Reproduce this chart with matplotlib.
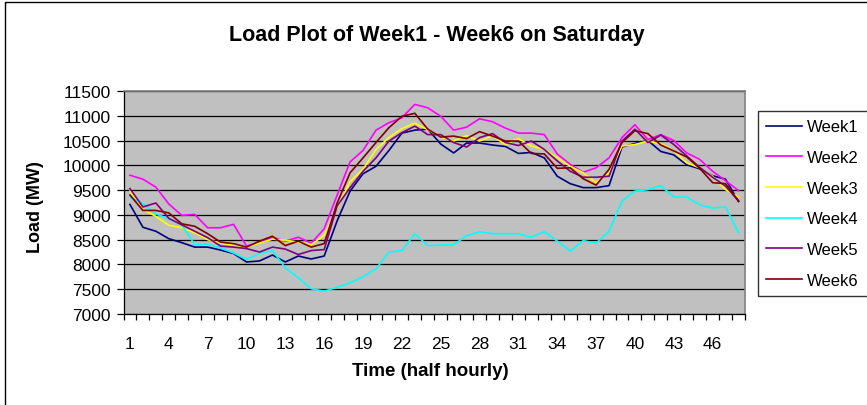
import numpy as np
import matplotlib
matplotlib.use("Agg")
import matplotlib.pyplot as plt
from matplotlib.patches import Rectangle

plt.rcParams["font.family"] = ["Liberation Sans", "DejaVu Sans"]

# half-hourly periods 1..48
periods = list(range(1, 49))

week1 = [9210, 8750, 8670, 8520, 8440, 8350, 8350, 8290, 8220, 8050, 8070, 8190,
         8050, 8170, 8110, 8170, 8880, 9480, 9830, 9980, 10300, 10650, 10710, 10730,
         10430, 10250, 10450, 10450, 10410, 10380, 10240, 10260, 10150, 9780, 9630, 9550,
         9550, 9590, 10370, 10440, 10500, 10280, 10210, 10010, 9930, 9790, 9720, 9270]
week2 = [9800, 9720, 9560, 9220, 8990, 9010, 8740, 8740, 8810, 8370, 8450, 8550,
         8470, 8550, 8430, 8720, 9400, 10070, 10300, 10710, 10860, 10960, 11230, 11160,
         10990, 10710, 10770, 10940, 10880, 10750, 10650, 10650, 10620, 10230, 10020, 9860,
         9950, 10150, 10560, 10820, 10520, 10620, 10500, 10250, 10120, 9880, 9690, 9490]
week3 = [9480, 9110, 8970, 8790, 8740, 8640, 8500, 8430, 8390, 8350, 8430, 8510,
         8490, 8450, 8400, 8590, 9140, 9670, 9920, 10320, 10560, 10740, 10850, 10720,
         10570, 10490, 10600, 10490, 10590, 10420, 10540, 10390, 10320, 10150, 9980, 9850,
         9650, 9850, 10390, 10420, 10490, 10440, 10290, 10050, 9950, 9780, 9510, 9360]
week4 = [9360, 9230, 9020, 8920, 8800, 8400, 8410, 8330, 8230, 8100, 8220, 8280,
         7930, 7730, 7510, 7460, 7540, 7630, 7750, 7910, 8250, 8280, 8620, 8380,
         8390, 8400, 8580, 8660, 8620, 8620, 8620, 8550, 8660, 8470, 8270, 8480,
         8430, 8670, 9280, 9480, 9510, 9590, 9360, 9360, 9200, 9140, 9160, 8640]
week5 = [9530, 9160, 9240, 8930, 8800, 8670, 8540, 8370, 8350, 8320, 8250, 8350,
         8310, 8200, 8280, 8300, 9180, 9550, 9880, 10150, 10490, 10660, 10790, 10620,
         10620, 10460, 10370, 10560, 10640, 10460, 10400, 10490, 10320, 10090, 9880, 9760,
         9760, 9780, 10490, 10730, 10460, 10610, 10420, 10190, 9960, 9760, 9580, 9280]
week6 = [9400, 9090, 9090, 9040, 8820, 8770, 8620, 8450, 8420, 8350, 8470, 8570,
         8380, 8470, 8350, 8420, 9240, 9850, 10150, 10460, 10760, 10990, 11050, 10730,
         10570, 10590, 10540, 10680, 10590, 10490, 10490, 10240, 10230, 9940, 9950, 9730,
         9600, 9920, 10460, 10700, 10640, 10410, 10290, 10170, 9940, 9650, 9630, 9280]

names = ["Week1", "Week2", "Week3", "Week4", "Week5", "Week6"]
colors = ["#000080", "#FF00FF", "#FFFF00", "#00FFFF", "#800080", "#800000"]
series = [week1, week2, week3, week4, week5, week6]

W, H = 867, 406
fig = plt.figure(figsize=(W / 100, H / 100), dpi=100)

# chart area frame (cut off at right/bottom like the screenshot)
fig.patches.append(Rectangle((5 / W, -0.1), 1.2, 1 - 3 / H + 0.1, transform=fig.transFigure,
                             fill=False, edgecolor="black", linewidth=1.0))

ax = fig.add_axes([123.5 / W, (H - 315) / H, 621.5 / W, 223 / H])
ax.set_facecolor("#C0C0C0")

for s, name, c in zip(series, names, colors):
    ax.plot(periods, s, color=c, linewidth=1.2, label=name)

ax.set_xlim(0.5, 48.5)
ax.set_ylim(7000, 11500)
ax.set_yticks(np.arange(7000, 11501, 500))
ax.yaxis.grid(True, color="black", linewidth=0.9)
ax.set_axisbelow(True)

ax.set_xticks(periods[::3])
ax.set_xticks(np.arange(0.5, 49, 1), minor=True)
ax.tick_params(axis="x", which="major", length=0, pad=16, labelsize=12.5)
ax.tick_params(axis="x", which="minor", length=4, width=0.9, direction="out")
ax.tick_params(axis="y", length=5, width=0.9, direction="out", pad=4, labelsize=12.5)

for side in ["top", "right"]:
    ax.spines[side].set_color("#808080")
    ax.spines[side].set_linewidth(1.2)
for side in ["left", "bottom"]:
    ax.spines[side].set_color("black")
    ax.spines[side].set_linewidth(0.9)

fig.text(437 / W, 1 - 35 / H, "Load Plot of Week1 - Week6 on Saturday",
         ha="center", va="center", fontsize=15.5, fontweight="bold")
fig.text(430 / W, 1 - 372 / H, "Time (half hourly)",
         ha="center", va="center", fontsize=13.5, fontweight="bold")
fig.text(36 / W, 1 - 207 / H, "Load (MW)", rotation=90,
         ha="center", va="center", fontsize=13, fontweight="bold")

# legend box runs past the right edge, as in the cropped screenshot
leg = ax.legend(loc="upper left", bbox_to_anchor=(758 / W, 1 - 112 / H, 130 / W, 0),
                bbox_transform=fig.transFigure, mode="expand", frameon=True,
                fancybox=False, edgecolor="black", fontsize=12, handlelength=2.15,
                handletextpad=0.3, labelspacing=0.94, borderpad=0.5, borderaxespad=0)
leg.get_frame().set_linewidth(1.0)

fig.savefig("out.png", dpi=100)
